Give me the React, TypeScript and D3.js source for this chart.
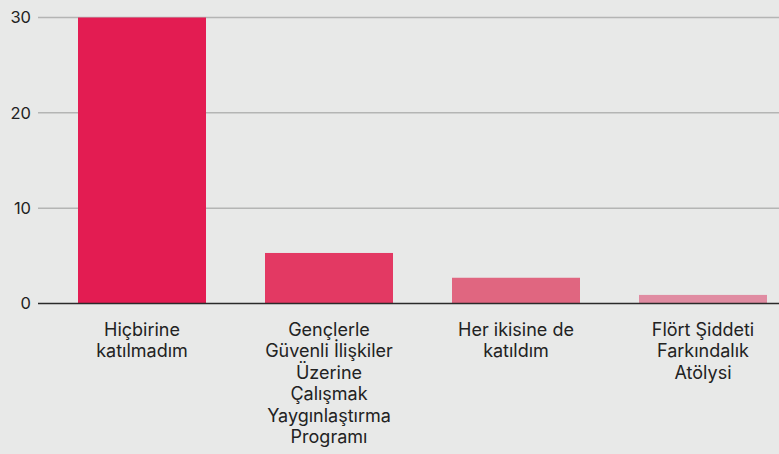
import { useEffect, useRef } from "react";
import * as d3 from "d3";

const categories = [
  "Hiçbirine katılmadım",
  "Gençlerle Güvenli İlişkiler Üzerine Çalışmak Yaygınlaştırma Programı",
  "Her ikisine de katıldım",
  "Flört Şiddeti Farkındalık Atölysi",
];
const labelLines = [
  ["Hiçbirine", "katılmadım"],
  ["Gençlerle", "Güvenli İlişkiler", "Üzerine", "Çalışmak", "Yaygınlaştırma", "Programı"],
  ["Her ikisine de", "katıldım"],
  ["Flört Şiddeti", "Farkındalık", "Atölysi"],
];
const values = [30, 5.3, 2.7, 0.9];
const barColors = ["#e31c52", "#e33963", "#e06680", "#e08ca2"];
const yTicks = [0, 10, 20, 30];

const WIDTH = 779;
const HEIGHT = 454;

const App = () => {
  const svgRef = useRef<SVGSVGElement | null>(null);

  useEffect(() => {
    const svg = d3.select(svgRef.current);
    svg.selectAll("*").remove();

    const FONT = "Inter, 'Noto Sans', sans-serif";

    // plot area runs past the right edge, like the original
    const x = d3
      .scaleBand()
      .domain(categories)
      .range([48.5, 796.5])
      .paddingInner(59 / 187)
      .paddingOuter(29.5 / 187);
    const y = d3.scaleLinear().domain([0, 30]).range([303.5, 17.5]);

    svg.append("rect").attr("width", WIDTH).attr("height", HEIGHT).attr("fill", "#e8e9e8");

    // grid lines
    svg
      .selectAll(".grid")
      .data(yTicks.filter((t) => t !== 0))
      .enter()
      .append("line")
      .attr("x1", 38)
      .attr("x2", WIDTH)
      .attr("y1", (d) => y(d))
      .attr("y2", (d) => y(d))
      .attr("stroke", "#b4b5b4")
      .attr("stroke-width", 1.5);

    svg
      .selectAll(".tick")
      .data(yTicks)
      .enter()
      .append("text")
      .text((d) => d)
      .attr("x", 31)
      .attr("y", (d) => y(d))
      .attr("dy", "0.36em")
      .attr("text-anchor", "end")
      .attr("font-family", FONT)
      .attr("font-size", 16.5)
      .attr("fill", "#222");

    svg
      .selectAll(".bar")
      .data(categories)
      .enter()
      .append("rect")
      .attr("x", (d) => x(d)!)
      .attr("width", x.bandwidth())
      .attr("y", (d, i) => y(values[i]))
      .attr("height", (d, i) => y(0) - y(values[i]))
      .attr("fill", (d, i) => barColors[i]);

    svg
      .append("line")
      .attr("x1", 38)
      .attr("x2", WIDTH)
      .attr("y1", y(0))
      .attr("y2", y(0))
      .attr("stroke", "#2a2a2a")
      .attr("stroke-width", 1.5);

    const labels = svg
      .selectAll(".label")
      .data(categories)
      .enter()
      .append("text")
      .attr("text-anchor", "middle")
      .attr("font-family", FONT)
      .attr("font-size", 18)
      .attr("fill", "#222");

    labels.each(function (d, i) {
      const t = d3.select(this);
      labelLines[i].forEach((line, j) => {
        t.append("tspan")
          .attr("x", x(d)! + x.bandwidth() / 2)
          .attr("y", 336 + j * 21.4)
          .text(line);
      });
    });
  }, []);

  return (
    <svg
      ref={svgRef}
      width={WIDTH}
      height={HEIGHT}
      style={{ position: "absolute", top: 0, left: 0, display: "block" }}
    />
  );
};

export default App;
